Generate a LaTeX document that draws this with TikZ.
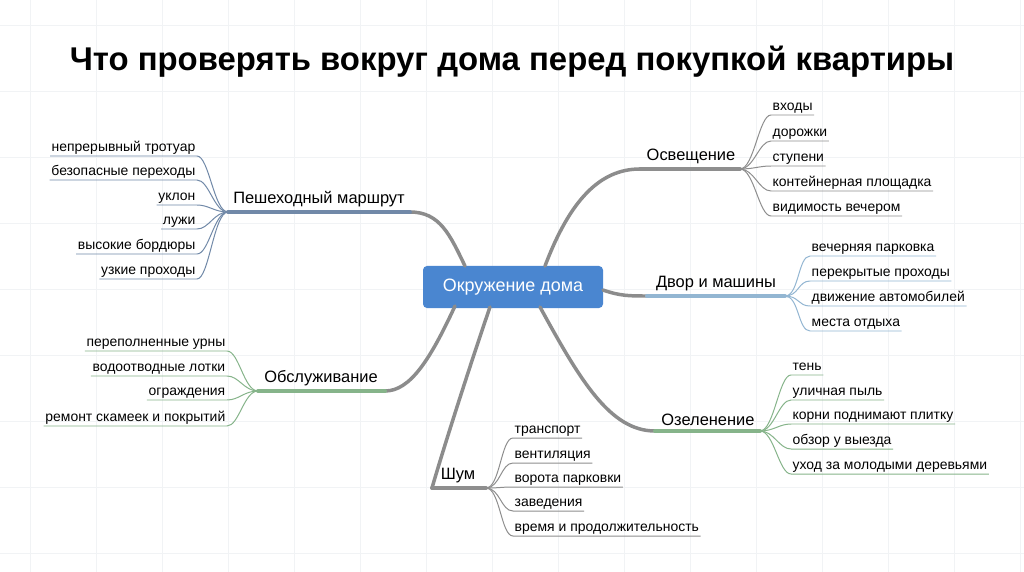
\documentclass[tikz,border=0pt]{standalone}
\usepackage{fontspec}
\setmainfont{Liberation Sans}
\definecolor{gridcol}{HTML}{F1F3F5}
\definecolor{trunkcol}{HTML}{8C8C8C}
\definecolor{centercol}{HTML}{4A86D0}
\definecolor{walkcol}{HTML}{7189A8}
\definecolor{yardcol}{HTML}{93B6D2}
\definecolor{greencol}{HTML}{86B48A}
\definecolor{graycol}{HTML}{8E8E8E}
\tikzset{
  leafL/.style={anchor=south east,inner sep=1.5pt,text height=10pt,text depth=3pt,font=\fontsize{14}{16}\selectfont},
  leafR/.style={anchor=south west,inner sep=1.5pt,text height=10pt,text depth=3pt,font=\fontsize{14}{16}\selectfont},
  branch/.style={anchor=south,inner sep=2pt,font=\fontsize{16.5}{19}\selectfont},
  trunk/.style={trunkcol,line width=3.5pt,line cap=round},
  bar/.style={line width=4pt,line cap=round},
  twig/.style={line width=1pt},
}
\begin{document}
\begin{tikzpicture}[x=1bp,y=-1bp,line join=round]
\useasboundingbox (0,0) rectangle (1024,572);
\fill[white] (0,0) rectangle (1024,572);
%% faint grid
\foreach \x in {30,96,...,1024} \draw[gridcol,line width=0.6pt] (\x,0) -- (\x,572);
\foreach \y in {25,91,...,572} \draw[gridcol,line width=0.6pt] (0,\y) -- (1024,\y);
\node (title) at (512,62) {\bfseries\fontsize{33}{38}\selectfont Что проверять вокруг дома перед покупкой квартиры};
%% centre
\node (home) at (513,287) [fill=centercol,rounded corners=4pt,minimum width=180bp,minimum height=42bp,text=white,font=\fontsize{18}{21}\selectfont] {Окружение дома};
%% branch ends
\coordinate (walkA) at (410,212);  \coordinate (walkB) at (228,212);
\coordinate (servA) at (385,391);  \coordinate (servB) at (258,391);
\coordinate (noiseA) at (432,488); \coordinate (noiseB) at (486,488);
\coordinate (lightA) at (640,169); \coordinate (lightB) at (740,169);
\coordinate (yardA) at (647,296);  \coordinate (yardB) at (785,296);
\coordinate (greenA) at (655,431); \coordinate (greenB) at (760,431);
%% trunks
\draw [trunk] (465,266) ..controls (450,235) and (440,212) .. (walkA);
\draw [trunk] (455,306) ..controls (430,360) and (410,391) .. (servA);
\draw [trunk] (490,307) ..controls (465,380) and (440,460) .. (noiseA);
\draw [trunk] (545,266) ..controls (570,200) and (600,169) .. (lightA);
\draw [trunk] (603,290) ..controls (620,296) and (630,296) .. (yardA);
\draw [trunk] (540,307) ..controls (580,380) and (610,431) .. (greenA);
%% branches
\draw [bar,walkcol] (walkA) -- (walkB);
\node (walk) at (319,209) [branch] {Пешеходный маршрут};
\draw [bar,greencol] (servA) -- (servB);
\node (serv) at (321,388) [branch] {Обслуживание};
\draw [bar,graycol] (noiseA) -- (noiseB);
\node (noise) at (458,485) [branch] {Шум};
\draw [bar,graycol] (lightA) -- (lightB);
\node (light) at (691,166) [branch] {Освещение};
\draw [bar,yardcol] (yardA) -- (yardB);
\node (yard) at (716,293) [branch] {Двор и машины};
\draw [bar,greencol] (greenA) -- (greenB);
\node (green) at (708,428) [branch] {Озеленение};
%% leaves: pedestrian route
\node (w1) at (197,156) [leafL] {непрерывный тротуар};
\node (w2) at (197,180) [leafL] {безопасные переходы};
\node (w3) at (197,205) [leafL] {уклон};
\node (w4) at (197,229) [leafL] {лужи};
\node (w5) at (197,254) [leafL] {высокие бордюры};
\node (w6) at (197,279) [leafL] {узкие проходы};
\foreach \n in {w1,w2,w3,w4,w5,w6}{
  \draw [twig,walkcol] (\n.south west) -- (\n.south east) ..controls +(12,0) and +(-14,0) .. (walkB);
}
%% leaves: service
\node (s1) at (227,351) [leafL] {переполненные урны};
\node (s2) at (227,376) [leafL] {водоотводные лотки};
\node (s3) at (227,400) [leafL] {ограждения};
\node (s4) at (227,426) [leafL] {ремонт скамеек и покрытий};
\foreach \n in {s1,s2,s3,s4}{
  \draw [twig,greencol] (\n.south west) -- (\n.south east) ..controls +(12,0) and +(-14,0) .. (servB);
}
%% leaves: noise
\node (n1) at (513,438) [leafR] {транспорт};
\node (n2) at (513,463) [leafR] {вентиляция};
\node (n3) at (513,487) [leafR] {ворота парковки};
\node (n4) at (513,511) [leafR] {заведения};
\node (n5) at (513,536) [leafR] {время и продолжительность};
\foreach \n in {n1,n2,n3,n4,n5}{
  \draw [twig,graycol] (\n.south east) -- (\n.south west) ..controls +(-12,0) and +(14,0) .. (noiseB);
}
%% leaves: lighting
\node (l1) at (771,115) [leafR] {входы};
\node (l2) at (771,141) [leafR] {дорожки};
\node (l3) at (771,166) [leafR] {ступени};
\node (l4) at (771,191) [leafR] {контейнерная площадка};
\node (l5) at (771,216) [leafR] {видимость вечером};
\foreach \n in {l1,l2,l3,l4,l5}{
  \draw [twig,graycol] (\n.south east) -- (\n.south west) ..controls +(-12,0) and +(14,0) .. (lightB);
}
%% leaves: yard
\node (y1) at (810,256) [leafR] {вечерняя парковка};
\node (y2) at (810,281) [leafR] {перекрытые проходы};
\node (y3) at (810,306) [leafR] {движение автомобилей};
\node (y4) at (810,331) [leafR] {места отдыха};
\foreach \n in {y1,y2,y3,y4}{
  \draw [twig,yardcol] (\n.south east) -- (\n.south west) ..controls +(-12,0) and +(14,0) .. (yardB);
}
%% leaves: greenery
\node (g1) at (791,375) [leafR] {тень};
\node (g2) at (791,400) [leafR] {уличная пыль};
\node (g3) at (791,424) [leafR] {корни поднимают плитку};
\node (g4) at (791,449) [leafR] {обзор у выезда};
\node (g5) at (791,474) [leafR] {уход за молодыми деревьями};
\foreach \n in {g1,g2,g3,g4,g5}{
  \draw [twig,greencol] (\n.south east) -- (\n.south west) ..controls +(-12,0) and +(14,0) .. (greenB);
}
%
\end{tikzpicture}
\end{document}
